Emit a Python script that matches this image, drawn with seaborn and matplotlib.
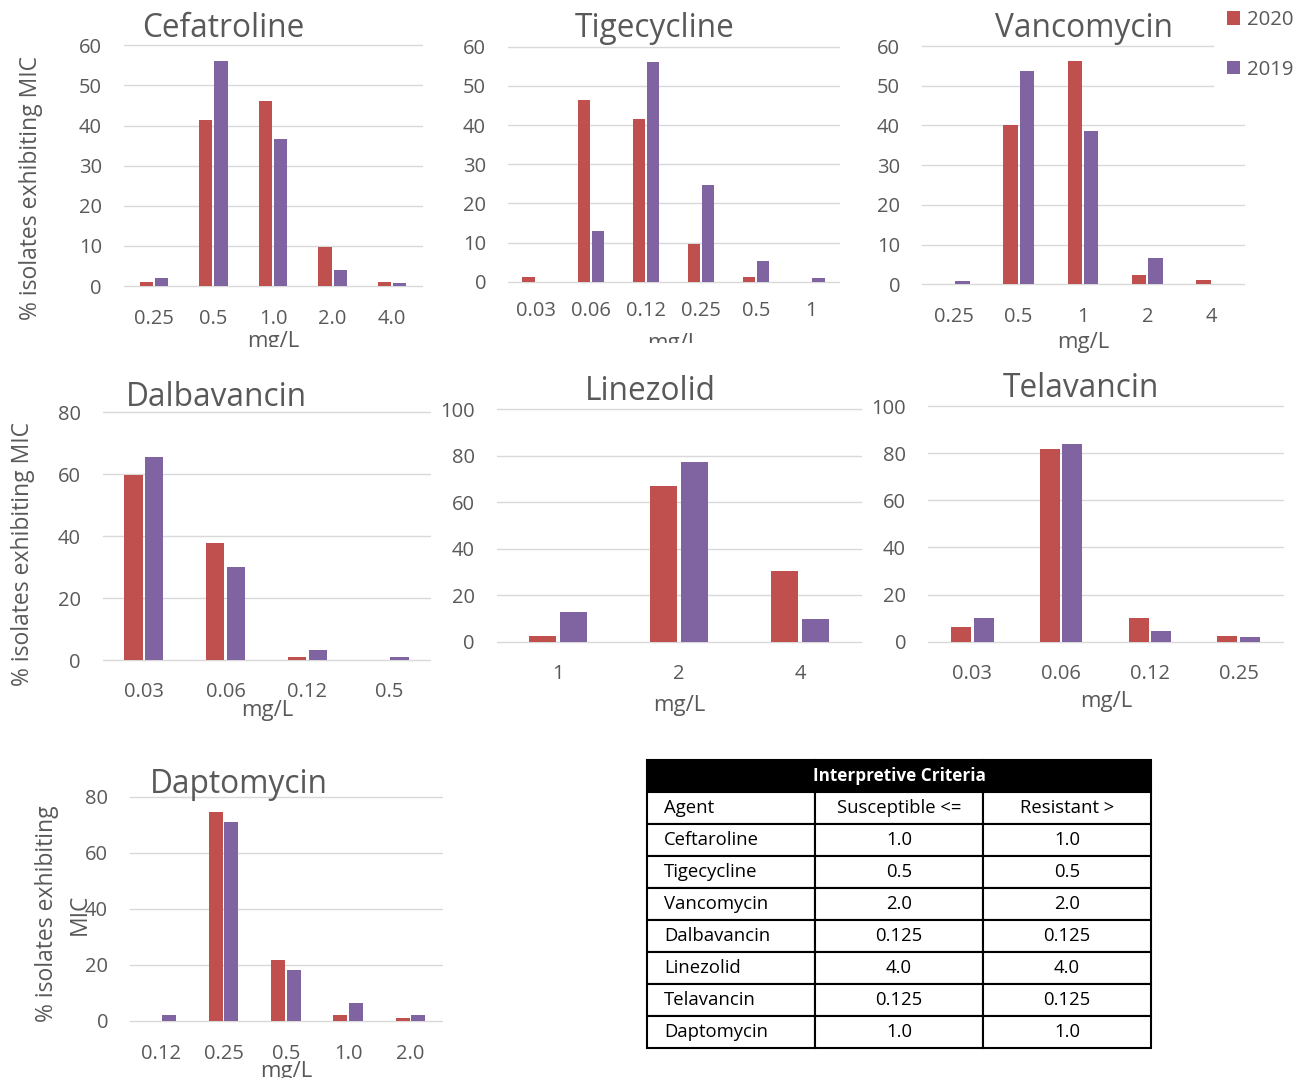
import numpy as np
import pandas as pd
import matplotlib
matplotlib.use("Agg")
import matplotlib.pyplot as plt
import seaborn as sns
from matplotlib.transforms import Bbox, TransformedBbox

# ---------------------------------------------------------------------------
# MIC distributions (% of isolates at each MIC, mg/L)
# ---------------------------------------------------------------------------
years = ["2020", "2019"]

cef_mic = ["0.25", "0.5", "1.0", "2.0", "4.0"]
cef_2020 = [1.0, 41.4, 46.2, 9.6, 1.0]
cef_2019 = [1.9, 56.0, 36.6, 4.0, 0.8]

tig_mic = ["0.03", "0.06", "0.12", "0.25", "0.5", "1"]
tig_2020 = [1.3, 46.4, 41.5, 9.5, 1.1, 0.0]
tig_2019 = [0.0, 12.9, 56.0, 24.7, 5.4, 0.9]

van_mic = ["0.25", "0.5", "1", "2", "4"]
van_2020 = [0.0, 40.1, 56.1, 2.3, 1.1]
van_2019 = [0.9, 53.7, 38.6, 6.5, 0.0]

dal_mic = ["0.03", "0.06", "0.12", "0.5"]
dal_2020 = [59.8, 37.7, 1.1, 0.0]
dal_2019 = [65.5, 29.9, 3.2, 1.1]

lin_mic = ["1", "2", "4"]
lin_2020 = [2.4, 66.9, 30.6]
lin_2019 = [12.9, 77.5, 9.8]

tel_mic = ["0.03", "0.06", "0.12", "0.25"]
tel_2020 = [6.1, 81.8, 9.9, 2.4]
tel_2019 = [9.9, 83.9, 4.4, 2.1]

dap_mic = ["0.12", "0.25", "0.5", "1.0", "2.0"]
dap_2020 = [0.0, 74.4, 21.9, 2.3, 1.1]
dap_2019 = [2.0, 71.0, 18.3, 6.3, 2.0]

# Interpretive criteria table
criteria_agents = ["Ceftaroline", "Tigecycline", "Vancomycin", "Dalbavancin",
                   "Linezolid", "Telavancin", "Daptomycin"]
criteria_susceptible = ["1.0", "0.5", "2.0", "0.125", "4.0", "0.125", "1.0"]
criteria_resistant = ["1.0", "0.5", "2.0", "0.125", "4.0", "0.125", "1.0"]

# ---------------------------------------------------------------------------
# Style
# ---------------------------------------------------------------------------
sns.set_theme(style="white")
plt.rcParams["font.family"] = ["Open Sans", "DejaVu Sans"]

PALETTE = {"2020": "#C0504D", "2019": "#8064A2"}
TEXT = "#595959"
GRID = "#D9D9D9"

W, H = 1309, 1078
fig = plt.figure(figsize=(W / 100, H / 100), dpi=100)
fig.patch.set_facecolor("white")


def px2pt(px):
    return px * 0.72


def fig_text(x, y, s, clip_y=None, **kw):
    t = fig.text(x / W, 1 - y / H, s, **kw)
    if clip_y is not None:
        box = TransformedBbox(Bbox([[0, 1 - clip_y / H], [1, 1]]), fig.transFigure)
        t.set_clip_box(box)
        t.set_clip_on(True)
    return t


def panel(title, mic, v2020, v2019, box, ymax, step, title_pos, xlabel_pos,
          xpad_px=22, xlabel_clip=None, legend=False):
    x0, x1, y_zero, y_top = box
    ax = fig.add_axes([x0 / W, 1 - y_zero / H, (x1 - x0) / W, (y_zero - y_top) / H])
    df = pd.DataFrame({
        "MIC": list(mic) * 2,
        "year": [years[0]] * len(mic) + [years[1]] * len(mic),
        "pct": list(v2020) + list(v2019),
    })
    sns.barplot(data=df, x="MIC", y="pct", hue="year", order=mic, hue_order=years,
                palette=PALETTE, saturation=1, width=0.51, gap=0.12, linewidth=0,
                errorbar=None, legend=legend, ax=ax)
    ax.set_xlim(-0.5, len(mic) - 0.5)
    ax.set_ylim(0, ymax)
    ax.set_yticks(np.arange(0, ymax + 1, step))
    ax.set_axisbelow(True)
    ax.grid(axis="y", color=GRID, linewidth=1.0)
    ax.grid(axis="x", visible=False)
    for gl in ax.get_ygridlines():
        gl.set_clip_on(False)
    for s in ax.spines.values():
        s.set_visible(False)
    ax.set_facecolor("none")
    ax.set_xlabel("")
    ax.set_ylabel("")
    ax.tick_params(axis="both", length=0, labelsize=14.5, labelcolor=TEXT)
    ax.tick_params(axis="x", pad=px2pt(xpad_px))
    ax.tick_params(axis="y", pad=px2pt(22))
    fig_text(title_pos[0], title_pos[1], title, fontsize=22.8, color=TEXT,
             ha="center", va="baseline")
    fig_text(xlabel_pos[0], xlabel_pos[1], "mg/L", clip_y=xlabel_clip,
             fontsize=16, color=TEXT, ha="center", va="baseline")
    return ax


panel("Cefatroline", cef_mic, cef_2020, cef_2019, (124, 422, 286, 45.3), 60, 10,
      (223, 36.7), (273, 347.5), xpad_px=23, xlabel_clip=347)
panel("Tigecycline", tig_mic, tig_2020, tig_2019, (508, 839, 281.7, 46.7), 60, 10,
      (655, 36.7), (673, 348.5), xpad_px=19, xlabel_clip=343)
ax_van = panel("Vancomycin", van_mic, van_2020, van_2019, (922, 1244, 284.3, 46), 60, 10,
               (1084, 36.7), (1083, 348.3), xpad_px=23, legend=True)
panel("Dalbavancin", dal_mic, dal_2020, dal_2019, (103, 430, 660, 412.3), 80, 20,
      (216, 406), (267, 716), xpad_px=22)
panel("Linezolid", lin_mic, lin_2020, lin_2019, (497, 861, 641.7, 409.3), 100, 20,
      (650, 400), (679, 710.7), xpad_px=22)
panel("Telavancin", tel_mic, tel_2020, tel_2019, (928, 1283, 641.7, 406), 100, 20,
      (1081, 396.7), (1106, 706.7), xpad_px=22)
panel("Daptomycin", dap_mic, dap_2020, dap_2019, (130, 441.7, 1021, 796.7), 80, 20,
      (239, 793.3), (286, 1077.4), xpad_px=23)

# y-axis captions
ylab = "% isolates exhibiting MIC"
fig_text(31, 188, ylab, rotation=90, fontsize=16.5, color=TEXT, ha="center", va="center")
fig_text(23, 554, ylab, rotation=90, fontsize=16.5, color=TEXT, ha="center", va="center")
fig_text(47, 914, "% isolates exhibiting", rotation=90, fontsize=16.5, color=TEXT,
         ha="center", va="center")
fig_text(80, 914, "MIC", rotation=90, fontsize=16.5, color=TEXT, ha="center", va="center")

# shared legend, top right
sns.move_legend(ax_van, "upper left", bbox_to_anchor=(1214 / W, 1 + 3 / H),
                bbox_transform=fig.transFigure, title=None, frameon=True,
                facecolor="white", edgecolor="none", framealpha=1,
                fontsize=14.7, labelcolor=TEXT, handlelength=0.64, handleheight=0.64,
                handletextpad=0.34, labelspacing=1.45, borderpad=0.64,
                borderaxespad=0)

# Interpretive criteria table
tx0, tx1, ty0, ty1 = 647, 1151, 760, 1048
tax = fig.add_axes([tx0 / W, 1 - ty1 / H, (tx1 - tx0) / W, (ty1 - ty0) / H])
tax.axis("off")
cell_rows = [["", "", ""], ["Agent", "Susceptible <=", "Resistant >"]]
cell_rows += [[a, s, r] for a, s, r in zip(criteria_agents, criteria_susceptible,
                                             criteria_resistant)]
tbl = tax.table(cellText=cell_rows, cellLoc="center", bbox=[0, 0, 1, 1])
tbl.auto_set_font_size(False)
for (r, c), cell in tbl.get_celld().items():
    cell.set_edgecolor("black")
    cell.set_linewidth(1.5)
    txt = cell.get_text()
    txt.set_fontsize(13.3)
    txt.set_color("black")
    if r == 0:
        cell.set_facecolor("black")
    if c == 0:
        cell._loc = "left"
        txt.set_horizontalalignment("left")
tax.text(0.5, 1 - 0.5 / len(cell_rows), "Interpretive Criteria", transform=tax.transAxes,
         ha="center", va="center", color="white", fontsize=12.3, fontweight="bold",
         zorder=10)

fig.savefig("out.png", dpi=100, facecolor="white")
